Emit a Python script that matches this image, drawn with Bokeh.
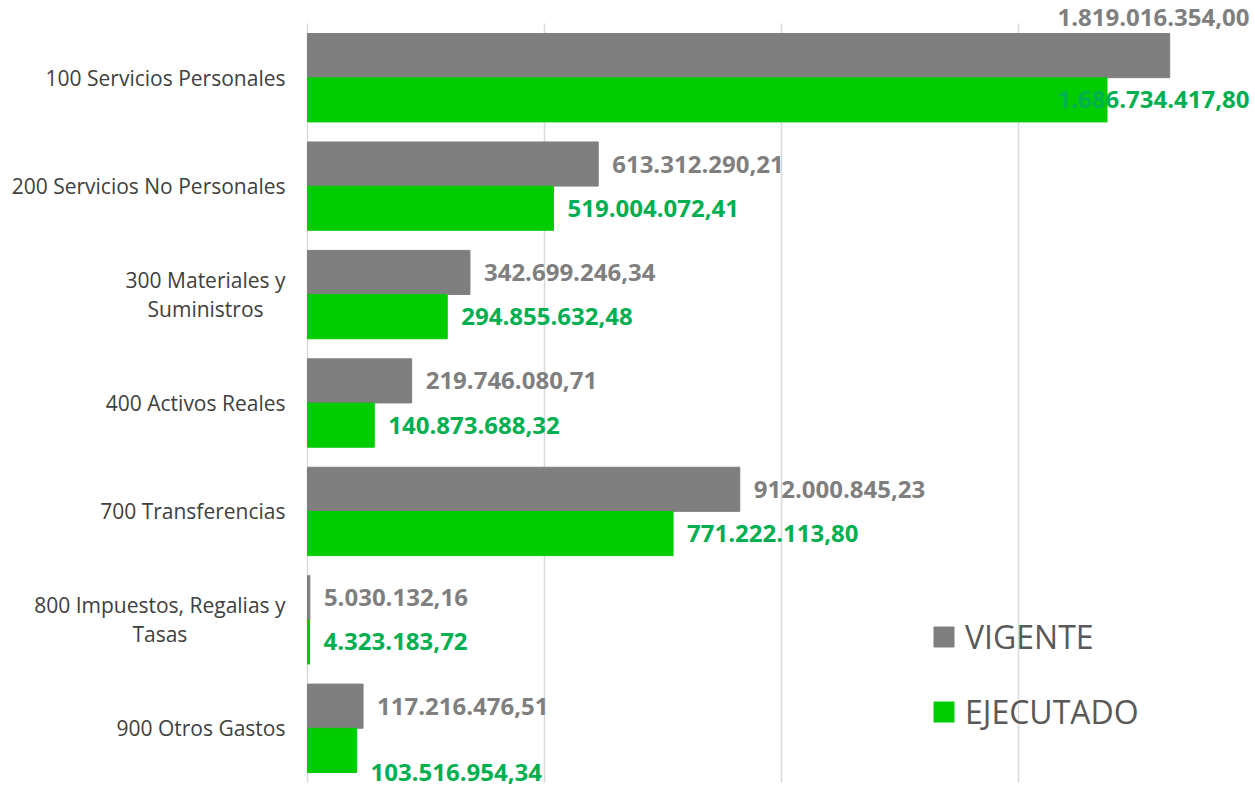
from bokeh.plotting import figure
from bokeh.models import (ColumnDataSource, Range1d, LabelSet, Legend, LegendItem)
from bokeh.core.properties import value
from bokeh.transform import dodge
from bokeh.embed import file_html
from bokeh.resources import INLINE

# ---------------- data ----------------
categories = [
    "100 Servicios Personales",
    "200 Servicios No Personales",
    "300 Materiales y\nSuministros",
    "400 Activos Reales",
    "700 Transferencias",
    "800 Impuestos, Regalias y\nTasas",
    "900 Otros Gastos",
]
vigente = [1819016354.00, 613312290.21, 342699246.34, 219746080.71,
           912000845.23, 5030132.16, 117216476.51]
ejecutado = [1686734417.80, 519004072.41, 294855632.48, 140873688.32,
             771222113.80, 4323183.72, 103516954.34]
series_names = ["VIGENTE", "EJECUTADO"]
grid_ticks = [0.5e9, 1.0e9, 1.5e9]

# ---------------- style / layout ----------------
W, H = 1255, 788
FONT = "Open Sans"
GRAY = "#7f7f7f"
GREEN = "#00cc00"
GREEN_TXT = "#00b050"
CAT_TXT = "#404040"
GRID = "#d9d9d9"
LEFT_PX, TOP_PX, BOTTOM_PX = 307, 23, 6     # plot-area margins inside the figure
PX_PER_UNIT = 474 / 1e9                       # horizontal scale
X_END = (W - LEFT_PX) / PX_PER_UNIT
EDGE = 1.5e9          # labels of bars longer than this are pinned to the right edge
OFF = 0.204           # dodge of each bar from category centre (in category bands)
BAR_H = 0.407
CAT_SIZE = 21
STANDOFF = 22
LINE_PITCH = 29

n = len(categories)
band_px = (H - TOP_PX - BOTTOM_PX) / n
y_lo = -0.5 - BOTTOM_PX / band_px
y_hi = n - 0.5 + TOP_PX / band_px

# approximate Open Sans advance widths (em) for centring wrapped category labels
_W = {" ": .26, ",": .25, ".": .27, "I": .279, "M": .885, "P": .6, "R": .6,
      "S": .55, "T": .55, "A": .633, "N": .75, "O": .78,
      "a": .556, "b": .613, "c": .48, "d": .613, "e": .561, "f": .336, "g": .54,
      "h": .615, "i": .258, "j": .258, "l": .258, "m": .93, "n": .615, "o": .601,
      "p": .613, "r": .408, "s": .479, "t": .353, "u": .615, "v": .501, "y": .501}


def text_w(s, size):
    return sum(.572 if ch.isdigit() else _W.get(ch, .55) for ch in s) * size


def fmt(v):
    s = f"{v:,.2f}"
    return s.replace(",", "X").replace(".", ",").replace("X", ".")


pos = [n - 1 - i for i in range(n)]   # top category first

p = figure(width=W, height=H,
           x_range=Range1d(-LEFT_PX / PX_PER_UNIT, X_END),
           y_range=Range1d(y_lo, y_hi),
           x_axis_location=None, y_axis_location=None,
           output_backend="svg", toolbar_location=None,
           min_border=0)
p.outline_line_color = None
p.background_fill_color = "white"
p.xgrid.visible = False
p.ygrid.visible = False

# grid lines and value axis line (span only the plotting band area)
gx = [0.0] + grid_ticks
p.segment(x0=gx, x1=gx, y0=[-0.5] * len(gx), y1=[n - 0.5] * len(gx),
          line_color=GRID, line_width=1.5)

src = ColumnDataSource(dict(cat=categories, pos=pos, vig=vigente, eje=ejecutado))

r_vig = p.hbar(y=dodge("pos", OFF), right="vig", left=0,
               height=BAR_H, color=GRAY, source=src)
r_eje = p.hbar(y=dodge("pos", -OFF), right="eje", left=0,
               height=BAR_H, color=GREEN, source=src)

# ---------------- category labels ----------------
cat_common = dict(text_baseline="middle", text_font=value(FONT),
                  text_font_size=f"{CAT_SIZE}px", text_color=CAT_TXT)
single = [i for i, c in enumerate(categories) if "\n" not in c]
s1 = ColumnDataSource(dict(x=[0.0] * len(single), y=[pos[i] for i in single],
                           t=[categories[i] for i in single]))
p.add_layout(LabelSet(x="x", y="y", text="t", source=s1, text_align="right",
                      x_offset=-STANDOFF, **cat_common))
for i, c in enumerate(categories):
    if "\n" in c:
        lines = c.split("\n")
        w = max(text_w(l, CAT_SIZE) for l in lines)
        k = len(lines)
        for j, line in enumerate(lines):
            s = ColumnDataSource(dict(x=[0.0], y=[pos[i]], t=[line]))
            p.add_layout(LabelSet(x="x", y="y", text="t", source=s, text_align="center",
                                  x_offset=-STANDOFF - w / 2,
                                  y_offset=((k - 1) / 2 - j) * LINE_PITCH,
                                  **cat_common))


# ---------------- data labels ----------------
def add_labels(values, dy, color, name):
    common = dict(text_font=value(FONT), text_font_size="24px", text_font_style="bold",
                  text_color=color, text_baseline="middle")
    last = categories[-1]
    groups = {"main": [], "low": [], "edge": []}
    for c, pp, v in zip(categories, pos, values):
        if v >= EDGE:
            groups["edge"].append((X_END, pp, fmt(v)))
        elif name == "EJECUTADO" and c == last:
            groups["low"].append((v, pp, fmt(v)))
        else:
            groups["main"].append((v, pp, fmt(v)))
    for g, rows in groups.items():
        if not rows:
            continue
        s = ColumnDataSource(dict(x=[r[0] for r in rows], y=[r[1] for r in rows],
                                  t=[r[2] for r in rows]))
        if g == "edge":
            kw = dict(x_offset=-6, y_offset=38 if name == "VIGENTE" else 0,
                      text_align="right")
        elif g == "low":
            kw = dict(x_offset=14, y_offset=-22)
        else:
            kw = dict(x_offset=14)
        p.add_layout(LabelSet(x="x", y=dodge("y", dy), text="t",
                              source=s, **kw, **common))


add_labels(vigente, OFF, GRAY, "VIGENTE")
add_labels(ejecutado, -OFF, GREEN_TXT, "EJECUTADO")

# ---------------- legend ----------------
legend = Legend(items=[LegendItem(label=series_names[0], renderers=[r_vig]),
                       LegendItem(label=series_names[1], renderers=[r_eje])],
                location=(931, 55), glyph_width=25, glyph_height=25,
                label_text_font=FONT, label_text_font_size="32px",
                label_text_color="#595959", label_standoff=9,
                spacing=32, padding=0, margin=0,
                border_line_color=None, background_fill_alpha=0)
p.add_layout(legend)

open("out.html", "w").write(file_html(p, INLINE))
